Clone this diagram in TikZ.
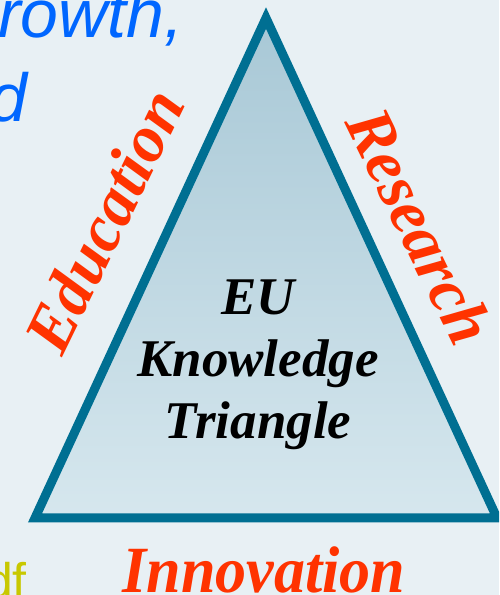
\documentclass[tikz,border=0pt]{standalone}
\usepackage{fontspec}
\setmainfont{Liberation Serif}
\setsansfont{Liberation Sans}
\usepackage{xcolor}
\usepackage{tikz}

\definecolor{pagebg}{HTML}{E8F0F4}
\definecolor{edgeblue}{HTML}{006F92}
\definecolor{filltop}{HTML}{A8C8D6}
\definecolor{fillbottom}{HTML}{D6E7EE}
\definecolor{sidered}{HTML}{FF3300}
\definecolor{topblue}{HTML}{0066FF}
\definecolor{olive}{HTML}{C8C800}

\begin{document}
\begin{tikzpicture}[x=1pt,y=1pt]
\tikzstyle{side}=
[
	text=sidered, inner sep=0pt,
	font=\fontsize{66}{66}\selectfont\bfseries\itshape
]
\tikzstyle{cut}=
[
	inner sep=0pt,
	font=\fontsize{68}{68}\selectfont\sffamily\itshape
]

\useasboundingbox[fill=pagebg] (0,0) rectangle (499,595);
\clip (0,0) rectangle (499,595);

% text of the slide behind the picture
\node[cut, text=topblue, anchor=base west] (growth) at (-2,557) {rowth,};
\node[cut, text=topblue, anchor=base east] (and) at (28,473) {d};
\node[cut, text=olive, anchor=base east, font=\fontsize{50}{50}\selectfont\sffamily] (pdf) at (27,-3) {df};

% the triangle
\coordinate (top) at (266,577);
\coordinate (left) at (35,77);
\coordinate (right) at (497,77);
\path[draw=edgeblue, line width=9pt, line join=miter,
	top color=filltop, bottom color=fillbottom]
	(top) -- (left) -- (right) -- cycle;

\node[align=center, inner sep=0pt,
	font=\fontsize{53}{62}\selectfont\bfseries\itshape] (title) at (258,230)
	{EU\\Knowledge\\Triangle};

\node[side, rotate=64] (edu) at (104,374) {Education};
\node[side, rotate=-64] (res) at (420,369) {Research};
\node[side, anchor=base, xscale=0.94] (inno) at (264,2) {Innovation};
\end{tikzpicture}
\end{document}
